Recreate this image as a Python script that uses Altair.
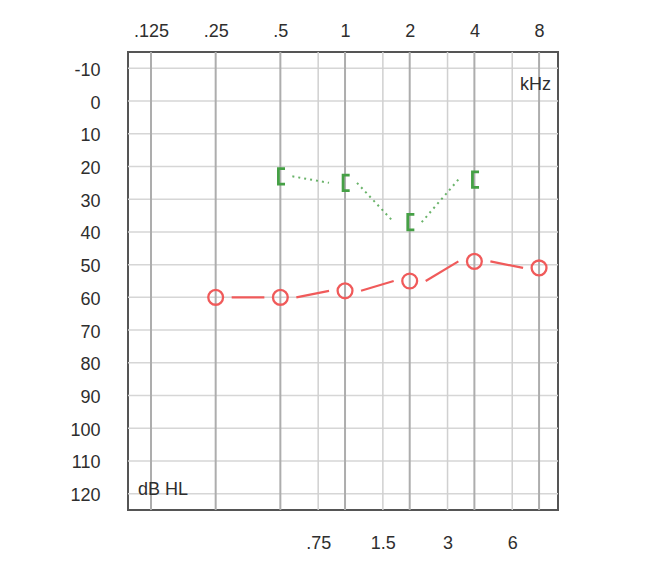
import altair as alt
import pandas as pd

# ---- data ----
air_freqs = [0.25, 0.5, 1, 2, 4, 8]
air_db = [60, 60, 58, 55, 49, 51]
bone_freqs = [0.5, 1, 2, 4]
bone_db = [23, 25, 37, 24]
octave_ticks = [0.125, 0.25, 0.5, 1, 2, 4, 8]
half_ticks = [0.75, 1.5, 3, 6]
db_ticks = list(range(-10, 121, 10))

X_DOMAIN = [0.0977, 9.80]
Y_DOMAIN = [-15, 125]

RED = "#f05a5a"
GREEN = "#45a045"
TXT = "#2e2e2e"
FONT = "Liberation Sans"
FS = 18

xs = alt.Scale(type="log", base=2, domain=X_DOMAIN, nice=False)
ys = alt.Scale(domain=Y_DOMAIN, reverse=True, nice=False, zero=False)

lbl_expr = "datum.value < 1 ? substring(toString(datum.value), 1) : toString(datum.value)"

oct_df = pd.DataFrame({"f": octave_ticks})
half_df = pd.DataFrame({"f": half_ticks})
db_df = pd.DataFrame({"db": db_ticks})

air_df = pd.DataFrame({"f": air_freqs, "db": air_db})
air_seg = pd.DataFrame({"f": air_freqs[:-1], "db": air_db[:-1],
                        "f2": air_freqs[1:], "db2": air_db[1:]})
bone_df = pd.DataFrame({"f": bone_freqs, "db": bone_db})
bone_seg = pd.DataFrame({"f": bone_freqs[:-1], "db": bone_db[:-1],
                         "f2": bone_freqs[1:], "db2": bone_db[1:]})

grid_h = alt.Chart(db_df).mark_rule(color="#d6d6d6", strokeWidth=1.5).encode(
    y=alt.Y("db:Q", scale=ys, axis=alt.Axis(
        orient="left", values=db_ticks, title=None, grid=False, ticks=False,
        tickSize=0, domain=False, labelPadding=28, labelFontSize=FS,
        labelFont=FONT, labelColor=TXT, labelOffset=2,
        labelExpr="toString(datum.value)")))

grid_half = alt.Chart(half_df).mark_rule(color="#d0d0d0", strokeWidth=1.5).encode(
    x=alt.X("f:Q", scale=xs, axis=alt.Axis(
        orient="bottom", values=half_ticks, labelExpr=lbl_expr, title=None,
        grid=False, ticks=False, tickSize=0, domain=False, labelPadding=24,
        labelFontSize=FS, labelFont=FONT, labelColor=TXT)))

grid_oct = alt.Chart(oct_df).mark_rule(color="#adadad", strokeWidth=2).encode(
    x=alt.X("f:Q", scale=xs, axis=alt.Axis(
        orient="top", values=octave_ticks, labelExpr=lbl_expr, title=None,
        grid=False, ticks=False, tickSize=0, domain=False, labelPadding=12,
        labelFontSize=FS, labelFont=FONT, labelColor=TXT)))

air_lines = alt.Chart(air_seg).mark_rule(
    color=RED, strokeWidth=2.2, xOffset=16, x2Offset=-16).encode(
    x=alt.X("f:Q", scale=xs, axis=None),
    x2="f2:Q",
    y=alt.Y("db:Q", scale=ys, axis=None),
    y2="db2:Q")

air_pts = alt.Chart(air_df).mark_point(
    shape="circle", size=220, filled=False, stroke=RED, strokeWidth=2.3,
    opacity=1).encode(
    x=alt.X("f:Q", scale=xs, axis=None),
    y=alt.Y("db:Q", scale=ys, axis=None))

bone_lines = alt.Chart(bone_seg).mark_rule(
    color=GREEN, strokeWidth=2, strokeDash=[2, 4], xOffset=12,
    x2Offset=-16, opacity=0.8).encode(
    x=alt.X("f:Q", scale=xs, axis=None),
    x2="f2:Q",
    y=alt.Y("db:Q", scale=ys, axis=None),
    y2="db2:Q")

bone_pts = alt.Chart(bone_df).mark_point(
    shape="M0.6,-1H-0.25V1H0.6", size=240, filled=False, stroke=GREEN,
    strokeWidth=2.8, opacity=1).encode(
    x=alt.X("f:Q", scale=xs, axis=None),
    y=alt.Y("db:Q", scale=ys, axis=None))

ann_df = pd.DataFrame({"f": [X_DOMAIN[1], X_DOMAIN[0]],
                       "db": [-5, 119],
                       "t": ["kHz", "dB HL"]})
khz = alt.Chart(ann_df[ann_df.t == "kHz"]).mark_text(
    align="right", baseline="middle", dx=-7, fontSize=FS, font=FONT,
    color=TXT).encode(
    x=alt.X("f:Q", scale=xs, axis=None),
    y=alt.Y("db:Q", scale=ys, axis=None), text="t:N")
dbhl = alt.Chart(ann_df[ann_df.t == "dB HL"]).mark_text(
    align="left", baseline="middle", dx=10, fontSize=FS, font=FONT,
    color=TXT).encode(
    x=alt.X("f:Q", scale=xs, axis=None),
    y=alt.Y("db:Q", scale=ys, axis=None), text="t:N")

chart = alt.layer(
    grid_h, grid_half, grid_oct, bone_lines, bone_pts, air_lines, air_pts,
    khz, dbhl
).resolve_axis(x="independent", y="independent").properties(
    width=430, height=458,
    autosize=alt.AutoSizeParams(type="none"),
    padding={"left": 120, "top": 44, "right": 80, "bottom": 48},
).configure_view(stroke="#555555", strokeWidth=2)

chart.save("out.html", embed_options={"renderer": "svg", "actions": False})
